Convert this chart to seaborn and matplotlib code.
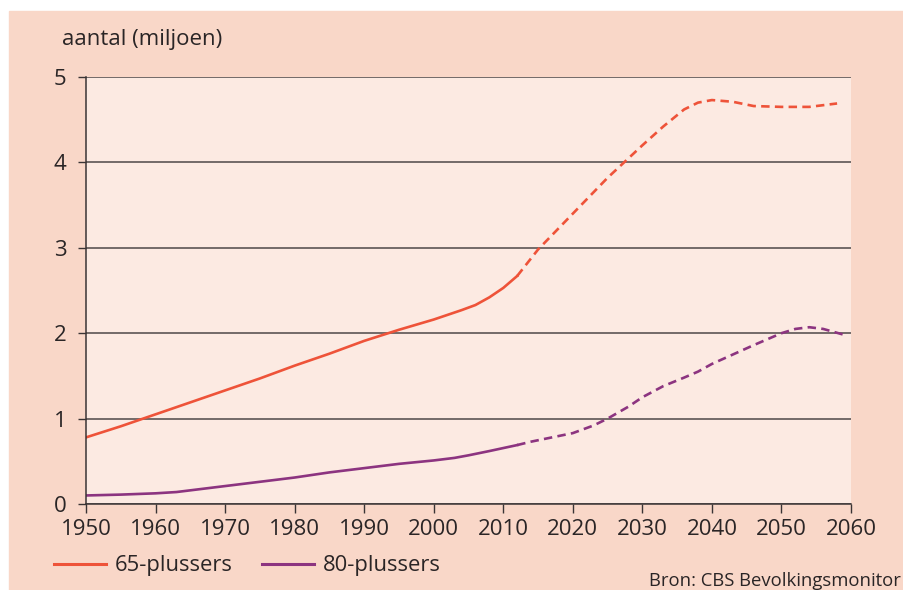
import pandas as pd
import matplotlib.pyplot as plt
import seaborn as sns
from matplotlib.lines import Line2D
from matplotlib.patches import Rectangle

# 65-plussers, waarneming en prognose (miljoen)
jaar_65_obs = [1950, 1955, 1960, 1965, 1970, 1975, 1980, 1985, 1990, 1995,
               2000, 2004, 2006, 2008, 2010, 2012]
val_65_obs = [0.78, 0.91, 1.05, 1.19, 1.33, 1.47, 1.62, 1.76, 1.91, 2.04,
              2.16, 2.27, 2.33, 2.42, 2.53, 2.67]
jaar_65_prog = [2012, 2015, 2020, 2025, 2030, 2033, 2036, 2038, 2040, 2043,
                2046, 2050, 2054, 2058]
val_65_prog = [2.67, 2.98, 3.40, 3.82, 4.20, 4.42, 4.62, 4.70, 4.73, 4.71,
               4.66, 4.65, 4.65, 4.69]

# 80-plussers
jaar_80_obs = [1950, 1955, 1960, 1963, 1965, 1970, 1975, 1980, 1985, 1990,
               1995, 2000, 2003, 2005, 2008, 2012]
val_80_obs = [0.10, 0.11, 0.125, 0.14, 0.16, 0.21, 0.26, 0.31, 0.37, 0.42,
              0.47, 0.51, 0.54, 0.57, 0.62, 0.69]
jaar_80_prog = [2012, 2014, 2017, 2020, 2023, 2025, 2028, 2030, 2033, 2036,
                2038, 2040, 2043, 2046, 2050, 2052, 2054, 2056, 2059.5]
val_80_prog = [0.69, 0.73, 0.78, 0.83, 0.92, 1.00, 1.14, 1.25, 1.38, 1.48,
               1.55, 1.64, 1.75, 1.86, 2.00, 2.05, 2.07, 2.05, 1.97]

groepen = ['65-plussers', '80-plussers']
xticks = list(range(1950, 2061, 10))
yticks = [0, 1, 2, 3, 4, 5]

rows = []
for g, jo, vo, jp, vp in [
        ('65-plussers', jaar_65_obs, val_65_obs, jaar_65_prog, val_65_prog),
        ('80-plussers', jaar_80_obs, val_80_obs, jaar_80_prog, val_80_prog)]:
    rows += [(g, 'waarneming', j, v) for j, v in zip(jo, vo)]
    rows += [(g, 'prognose', j, v) for j, v in zip(jp, vp)]
df = pd.DataFrame(rows, columns=['groep', 'type', 'jaar', 'aantal'])

kleuren = {'65-plussers': '#EE5339', '80-plussers': '#8C3480'}
peach = '#F9D7C8'
inner = '#FCEAE2'
ink = '#2A2526'

plt.rcParams['font.family'] = ['Open Sans', 'DejaVu Sans']

fig = plt.figure(figsize=(9.04, 5.90), dpi=100, facecolor='white')
fig.patches.append(Rectangle((9 / 904, 0), 1, 1 - 11 / 590,
                             transform=fig.transFigure, color=peach,
                             zorder=-10))
ax = fig.add_axes([86 / 904, 1 - 504 / 590, (851 - 86) / 904, (504 - 77) / 590])
ax.set_facecolor(inner)

sns.lineplot(data=df, x='jaar', y='aantal', hue='groep', style='type',
             palette=kleuren, dashes={'waarneming': '', 'prognose': (3.2, 2)},
             linewidth=1.9, legend=False, ax=ax, sort=False,
             estimator=None, units='type')

ax.set_xlim(1950, 2060)
ax.set_ylim(0, 5)
ax.set_xticks(xticks)
ax.set_yticks(yticks)
ax.set_xlabel('')
ax.set_ylabel('')
ax.grid(axis='y', color='#4E4747', linewidth=1.1)
ax.grid(axis='x', visible=False)
ax.set_axisbelow(True)
for s in ['top', 'right']:
    ax.spines[s].set_visible(False)
for s in ['left', 'bottom']:
    ax.spines[s].set_color('#3a3435')
    ax.spines[s].set_linewidth(1.1)
ax.tick_params(axis='x', direction='out', length=6.5, width=1, color='#3a3435',
               labelsize=16, labelcolor=ink, pad=4)
ax.tick_params(axis='y', direction='out', length=6, width=1, color='#3a3435',
               labelsize=16, labelcolor=ink, pad=8)

fig.text(62 / 904, 1 - 40 / 590, 'aantal (miljoen)', fontsize=16,
         color=ink, va='center', ha='left')

handles = [Line2D([0], [0], color=kleuren[g], linewidth=2.2) for g in groepen]
fig.legend(handles, groepen, loc='center left',
           bbox_to_anchor=(34 / 904, 1 - 566 / 590), ncol=2, frameon=False,
           fontsize=15.8, handlelength=2.4, handletextpad=0.4,
           columnspacing=1.3, labelcolor=ink)

fig.text(901 / 904, 4 / 590, 'Bron: CBS Bevolkingsmonitor', fontsize=13.3,
         color=ink, va='baseline', ha='right')

fig.savefig('out.png', dpi=100, facecolor='white')
